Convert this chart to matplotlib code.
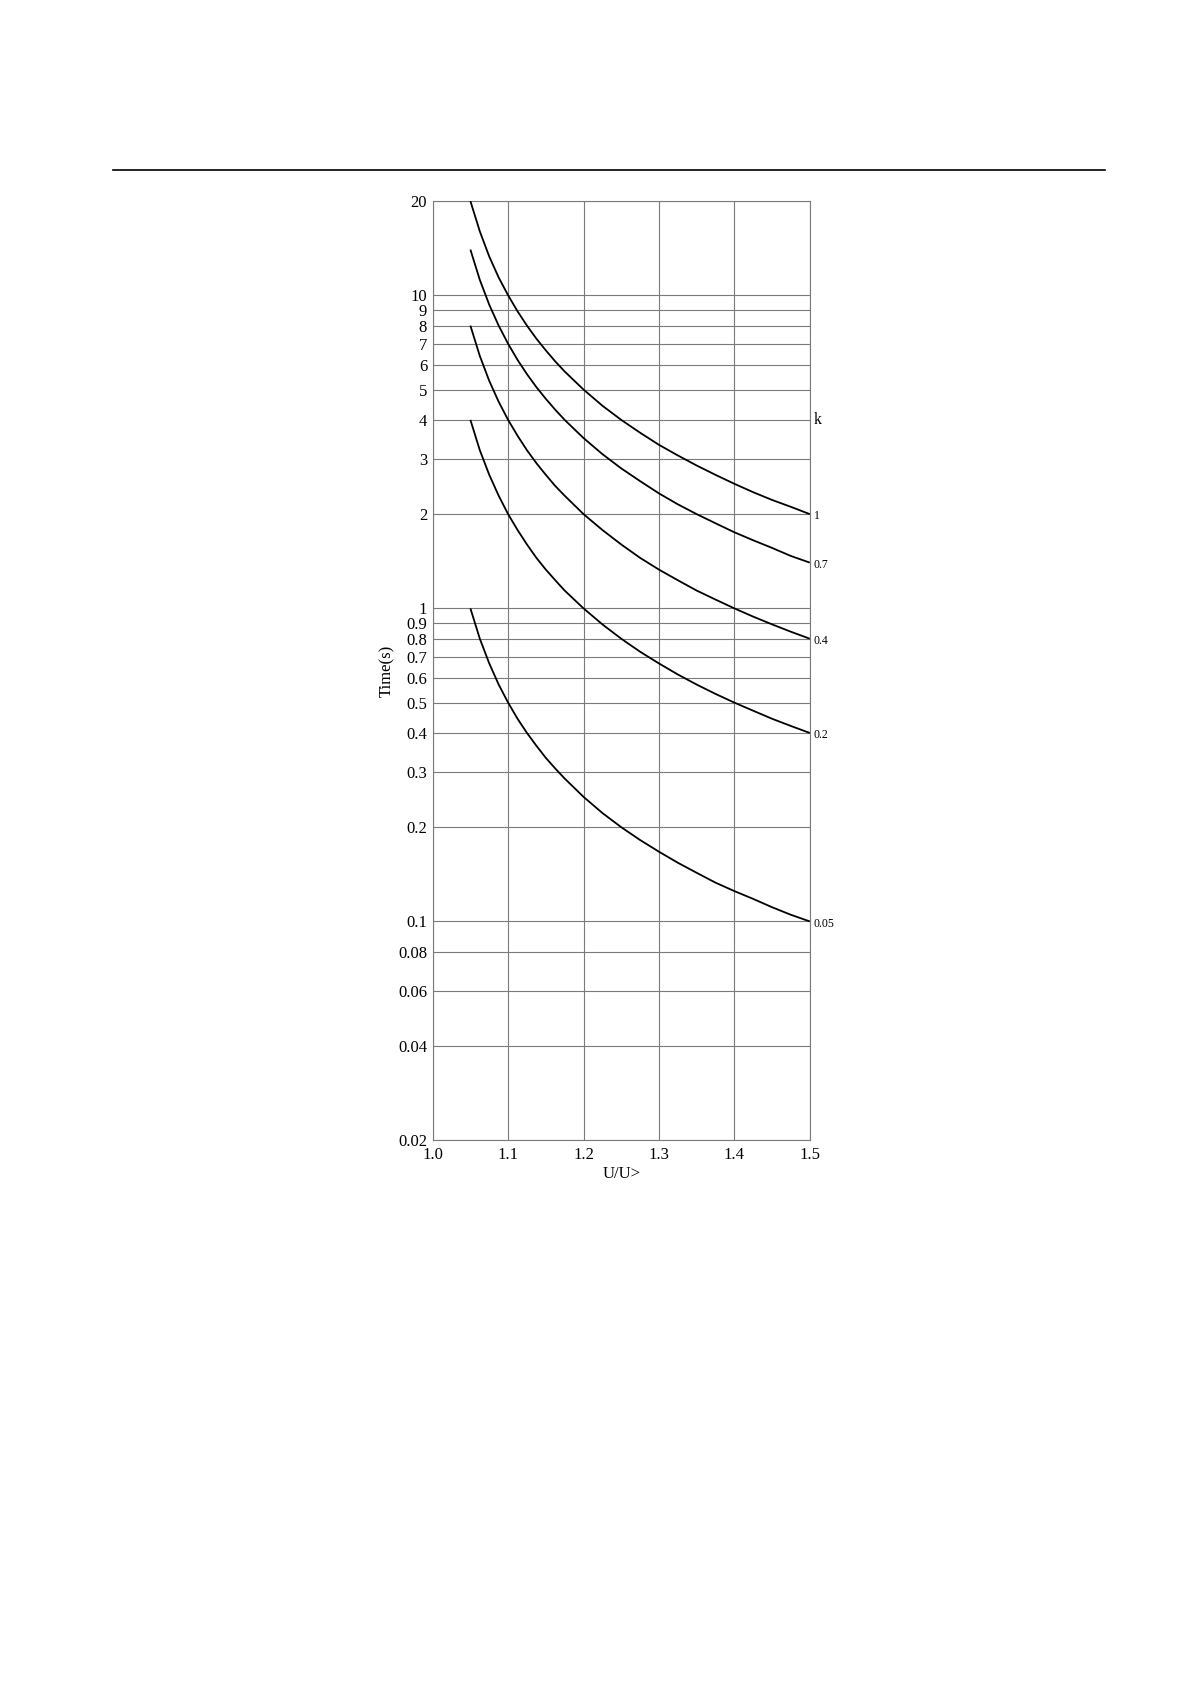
import matplotlib
matplotlib.use("Agg")
import matplotlib.pyplot as plt
from matplotlib.lines import Line2D

plt.rcParams['font.family'] = ['Liberation Serif', 'DejaVu Serif']

# ---- data ----
ratio = [1.05, 1.0625, 1.075, 1.0875, 1.1, 1.1125, 1.125, 1.1375, 1.15, 1.1625, 1.175,
         1.2, 1.225, 1.25, 1.275, 1.3, 1.325, 1.35, 1.375, 1.4, 1.425, 1.45, 1.475, 1.5]

t_k1 = [20.0, 16.0, 13.3, 11.4, 10.0, 8.89, 8.00, 7.27, 6.67, 6.15, 5.71, 5.00, 4.44, 4.00,
        3.64, 3.33, 3.08, 2.86, 2.67, 2.50, 2.35, 2.22, 2.11, 2.00]
t_k07 = [14.0, 11.2, 9.33, 8.00, 7.00, 6.22, 5.60, 5.09, 4.67, 4.31, 4.00, 3.50, 3.11, 2.80,
         2.55, 2.33, 2.15, 2.00, 1.87, 1.75, 1.65, 1.56, 1.47, 1.40]
t_k04 = [8.00, 6.40, 5.33, 4.57, 4.00, 3.56, 3.20, 2.91, 2.67, 2.46, 2.29, 2.00, 1.78, 1.60,
         1.45, 1.33, 1.23, 1.14, 1.067, 1.00, 0.941, 0.889, 0.842, 0.800]
t_k02 = [4.00, 3.20, 2.67, 2.29, 2.00, 1.78, 1.60, 1.45, 1.33, 1.23, 1.14, 1.00, 0.889, 0.800,
         0.727, 0.667, 0.615, 0.571, 0.533, 0.500, 0.471, 0.444, 0.421, 0.400]
t_k005 = [1.00, 0.800, 0.667, 0.571, 0.500, 0.444, 0.400, 0.364, 0.333, 0.308, 0.286, 0.250,
          0.222, 0.200, 0.182, 0.167, 0.154, 0.143, 0.133, 0.125, 0.118, 0.111, 0.105, 0.100]

series = [t_k1, t_k07, t_k04, t_k02, t_k005]
k_labels = ['1', '0.7', '0.4', '0.2', '0.05']

x_ticks = [1.0, 1.1, 1.2, 1.3, 1.4, 1.5]
x_ticklabels = ['1.0', '1.1', '1.2', '1.3', '1.4', '1.5']
y_ticks = [20, 10, 9, 8, 7, 6, 5, 4, 3, 2, 1, 0.9, 0.8, 0.7, 0.6, 0.5, 0.4, 0.3,
           0.2, 0.1, 0.08, 0.06, 0.04, 0.02]
y_ticklabels = ['20', '10', '9', '8', '7', '6', '5', '4', '3', '2', '1', '0.9', '0.8',
                '0.7', '0.6', '0.5', '0.4', '0.3', '0.2', '0.1', '0.08', '0.06',
                '0.04', '0.02']

# ---- figure ----
fig = plt.figure(figsize=(11.91, 16.84), dpi=100)
fig.add_artist(Line2D([0.0951, 0.928], [0.8989, 0.8989], color='black', lw=1.2,
                      transform=fig.transFigure))

ax = fig.add_axes([0.3633, 0.3229, 0.3166, 0.5577])
ax.set_yscale('log')
ax.set_xlim(1.0, 1.5)
ax.set_ylim(0.02, 20)

grid_c = '#7a7a7a'
for yv in y_ticks:
    ax.axhline(yv, color=grid_c, lw=0.8, zorder=1)
for xv in x_ticks:
    ax.axvline(xv, color=grid_c, lw=0.8, zorder=1)

for s, lab in zip(series, k_labels):
    ax.plot(ratio, s, color='black', lw=1.3, zorder=3, solid_capstyle='butt',
            solid_joinstyle='round')
    ax.annotate(lab, xy=(1.0, s[-1]), xycoords=('axes fraction', 'data'),
                xytext=(3, -1.5), textcoords='offset points', fontsize=8.5,
                va='center', ha='left')

ax.annotate('k', xy=(1.0, 4), xycoords=('axes fraction', 'data'),
            xytext=(3, 0), textcoords='offset points', fontsize=11.5,
            va='center', ha='left')

ax.set_xticks(x_ticks)
ax.set_xticklabels(x_ticklabels)
ax.set_yticks(y_ticks)
ax.set_yticklabels(y_ticklabels)
ax.minorticks_off()
ax.tick_params(axis='both', length=0, labelsize=12)
ax.tick_params(axis='y', pad=4)
ax.tick_params(axis='x', pad=5)
ax.get_yticklabels()[-1].set_va('center_baseline')

for sp in ax.spines.values():
    sp.set_color(grid_c)
    sp.set_linewidth(0.8)

ax.set_xlabel('U/U>', fontsize=12, labelpad=2)
ax.set_ylabel('Time(s)', fontsize=12, labelpad=2)

fig.savefig('out.png', dpi=100, facecolor='white')
